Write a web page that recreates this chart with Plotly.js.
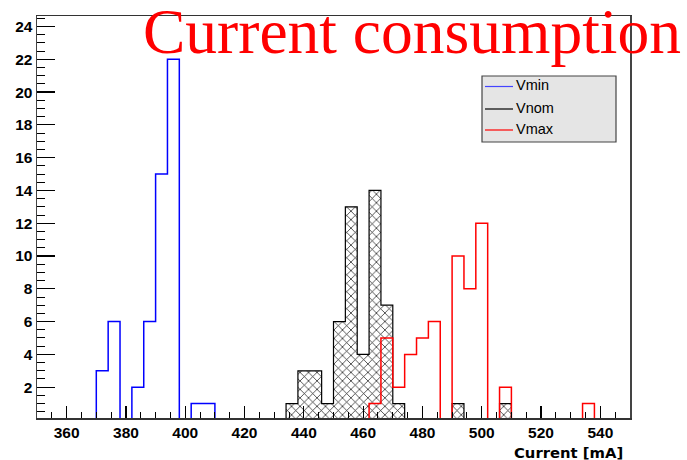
<!DOCTYPE html>
<html>
<head>
<meta charset="utf-8">
<script src="https://cdn.plot.ly/plotly-3.0.1.min.js"></script>
<style>html,body{margin:0;padding:0;background:#fff;}#chart{width:687px;height:460px;}</style>
</head>
<body>
<div id="chart"></div>
<script>
// Histogram data: lower bin edges (mA) and counts, bin width 4 mA
const binWidth = 4;
const vminLow = [370, 374, 382, 386, 390, 394, 402, 406];
const vminCounts = [3, 6, 2, 6, 15, 22, 1, 1];
const vnomLow = [434, 438, 442, 446, 450, 454, 458, 462, 466, 470, 490, 506];
const vnomCounts = [1, 3, 3, 1, 6, 13, 4, 14, 7, 1, 1, 1];
const vmaxLow = [462, 466, 470, 474, 478, 482, 490, 494, 498, 506, 534];
const vmaxCounts = [1, 5, 2, 4, 5, 6, 10, 8, 12, 2, 1];
const seriesNames = ['Vmin', 'Vnom', 'Vmax'];
const seriesColors = ['#0000ff', '#000000', '#ff0000'];
const xTickVals = [360, 380, 400, 420, 440, 460, 480, 500, 520, 540];
const yTickVals = [2, 4, 6, 8, 10, 12, 14, 16, 18, 20, 22, 24];

// Build a ROOT-style step outline from the bin data
function stepOutline(lows, counts) {
  const map = new Map();
  lows.forEach((lo, i) => map.set(lo, counts[i]));
  const first = Math.min(...lows), last = Math.max(...lows);
  const xs = [first], ys = [0];
  for (let lo = first; lo <= last; lo += binWidth) {
    const c = map.has(lo) ? map.get(lo) : 0;
    xs.push(lo, lo + binWidth);
    ys.push(c, c);
  }
  xs.push(last + binWidth); ys.push(0);
  return {x: xs, y: ys};
}

const sMin = stepOutline(vminLow, vminCounts);
const sNom = stepOutline(vnomLow, vnomCounts);
const sMax = stepOutline(vmaxLow, vmaxCounts);

const traces = [
  {x: sNom.x, y: sNom.y, type: 'scatter', mode: 'lines', name: seriesNames[1], showlegend: false,
   line: {color: seriesColors[1], width: 1.2}, fill: 'tozeroy', fillcolor: '#ffffff',
   fillpattern: {shape: 'x', fgcolor: '#111', bgcolor: '#ffffff', size: 6, solidity: 0.22},
   hoverinfo: 'skip'},
  {x: sMin.x, y: sMin.y, type: 'scatter', mode: 'lines', name: seriesNames[0], showlegend: false,
   line: {color: seriesColors[0], width: 1.5}, hoverinfo: 'skip'},
  {x: sMax.x, y: sMax.y, type: 'scatter', mode: 'lines', name: seriesNames[2], showlegend: false,
   line: {color: seriesColors[2], width: 1.5}, hoverinfo: 'skip'}
];

// plot area in pixels: x 37..630, y 16..418
const PL = 37, PR = 630, PT = 16, PB = 418;
const px = v => (v - PL) / (PR - PL);
const py = v => (PB - v) / (PB - PT);

// legend box (ROOT TLegend look)
const legBox = {x0: 482, x1: 616, y0: 76, y1: 142};
const legLineY = [86.5, 109, 130];
const legTextY = [84.5, 108, 129];
const shapes = [
  {type: 'rect', xref: 'paper', yref: 'paper', x0: px(legBox.x0), x1: px(legBox.x1), y0: py(legBox.y1), y1: py(legBox.y0),
   fillcolor: '#e5e5e5', line: {color: '#444', width: 1.2}, layer: 'above'}
];
const annotations = [];
seriesNames.forEach((n, i) => {
  shapes.push({type: 'line', xref: 'paper', yref: 'paper', x0: px(485), x1: px(513), y0: py(legLineY[i]), y1: py(legLineY[i]),
               line: {color: i === 0 ? '#4444ff' : seriesColors[i], width: 1.2}, layer: 'above'});
  annotations.push({text: n, xref: 'paper', yref: 'paper', x: px(514), y: py(legTextY[i]), xanchor: 'left', yanchor: 'middle',
                    showarrow: false, font: {family: 'Liberation Sans, Arial, sans-serif', size: 14.5, color: '#000'}});
});
annotations.push({text: 'Current [mA]', xref: 'paper', yref: 'paper', x: px(625), y: py(452),
  xanchor: 'right', yanchor: 'middle', showarrow: false,
  font: {family: 'DejaVu Sans, sans-serif', size: 14.8, color: '#000', weight: 'bold'}});

const tickFont = {family: 'Liberation Sans, Arial, sans-serif', size: 15.5, color: '#000', weight: 'bold'};

const layout = {
  width: 687, height: 460,
  margin: {l: PL, r: 687 - PR, t: PT, b: 460 - PB, pad: 0},
  paper_bgcolor: '#fff', plot_bgcolor: '#fff',
  showlegend: false,
  title: {text: 'Current consumption', font: {family: 'Liberation Serif, Times New Roman, serif', size: 63.5, color: '#ff0000'},
          xref: 'container', yref: 'container', x: 143/687, xanchor: 'left', y: 1 - 9/460, yanchor: 'top', pad: {t: 0, b: 0, l: 0, r: 0}},
  xaxis: {range: [350, 550], tickvals: xTickVals, ticktext: xTickVals.map(String), ticks: 'inside', ticklen: 12, tickwidth: 1.2, tickcolor: '#000',
          minor: {dtick: 5, tick0: 350, ticks: 'inside', ticklen: 6, tickwidth: 1, tickcolor: '#000', showgrid: false},
          showline: true, linecolor: '#333', linewidth: 1.5, mirror: true, showgrid: false, zeroline: false,
          tickfont: tickFont, fixedrange: true},
  yaxis: {range: [0.12, 24.64], tickvals: yTickVals, ticktext: yTickVals.map(String), ticks: 'inside', ticklen: 18, tickwidth: 1.2, tickcolor: '#000',
          minor: {dtick: 0.5, tick0: 0, ticks: 'inside', ticklen: 8, tickwidth: 1, tickcolor: '#000', showgrid: false},
          showline: true, linecolor: '#444', linewidth: 1.5, mirror: true, showgrid: false, zeroline: false,
          tickfont: tickFont, fixedrange: true},
  shapes: shapes,
  annotations: annotations
};

Plotly.newPlot('chart', traces, layout, {displayModeBar: false, staticPlot: true});
</script>
</body>
</html>
